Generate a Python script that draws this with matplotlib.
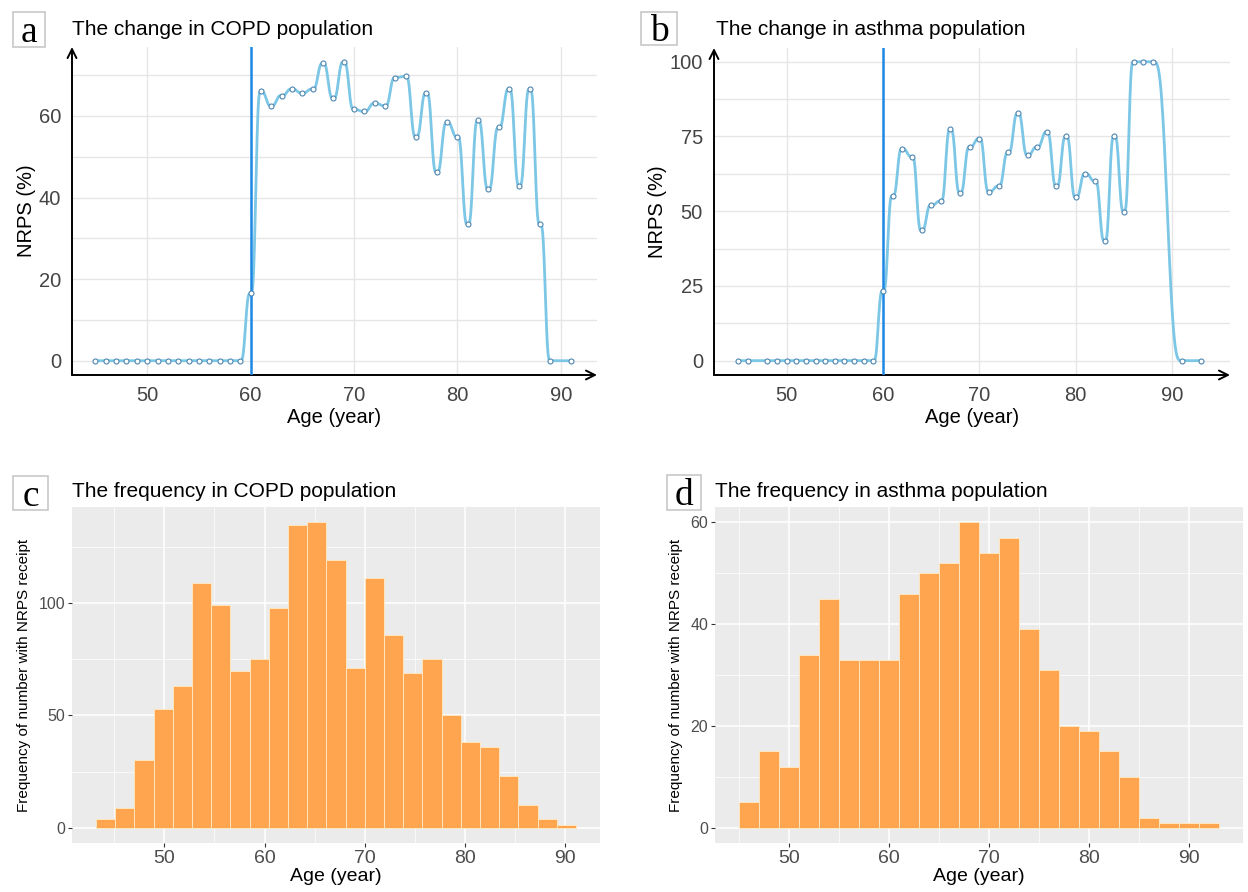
import numpy as np
import matplotlib
matplotlib.use("Agg")
import matplotlib.pyplot as plt
from matplotlib.patches import Rectangle

plt.rcParams['font.family'] = ['Liberation Sans', 'DejaVu Sans']

# ---- data ----
copd_age = [45, 46, 47, 48, 49, 50, 51, 52, 53, 54, 55, 56, 57, 58, 59,
            60, 61, 62, 63, 64, 65, 66, 67, 68, 69, 70, 71, 72, 73, 74,
            75, 76, 77, 78, 79, 80, 81, 82, 83, 84, 85, 86, 87, 88, 89, 91]
copd_nrps = [0, 0, 0, 0, 0, 0, 0, 0, 0, 0, 0, 0, 0, 0, 0,
             16.5, 66.0, 62.5, 65.0, 66.6, 65.6, 66.6, 72.9, 64.3, 73.2, 61.6,
             61.1, 63.1, 62.5, 69.4, 69.7, 54.9, 65.7, 46.2, 58.4, 54.9, 33.4,
             58.9, 42.1, 57.2, 66.6, 42.9, 66.6, 33.4, 0, 0]

asthma_age = [45, 46, 48, 49, 50, 51, 52, 53, 54, 55, 56, 57, 58, 59,
              60, 61, 62, 63, 64, 65, 66, 67, 68, 69, 70, 71, 72, 73, 74,
              75, 76, 77, 78, 79, 80, 81, 82, 83, 84, 85, 86, 87, 88, 91, 93]
asthma_nrps = [0, 0, 0, 0, 0, 0, 0, 0, 0, 0, 0, 0, 0, 0,
               23.4, 55.2, 70.9, 68.3, 43.6, 52.0, 53.4, 77.4, 56.1, 71.5, 74.3,
               56.5, 58.4, 69.7, 82.7, 68.8, 71.5, 76.5, 58.4, 75.1, 54.6, 62.6,
               60.1, 40.1, 75.1, 49.9, 100, 100, 100, 0, 0]

cutoff_age = 60

copd_counts = [4, 9, 30, 53, 63, 109, 99, 70, 75, 98, 135, 136, 119, 71, 111,
               86, 69, 75, 50, 38, 36, 23, 10, 4, 1]
copd_bin_start = 43.2
copd_bin_width = 1.915

asthma_counts = [5, 15, 12, 34, 45, 33, 33, 33, 46, 50, 52, 60, 54, 57, 39,
                 31, 20, 19, 15, 10, 2, 1, 1, 1]
asthma_bin_start = 45
asthma_bin_width = 2

W, H = 1248, 892


def px_axes(fig, left, top, right, bottom):
    return fig.add_axes([left / W, 1 - bottom / H, (right - left) / W, (bottom - top) / H])


def smooth_curve(xs, ys, n=40):
    # smooth step between consecutive points (flat at each point)
    xx, yy = [], []
    for i in range(len(xs) - 1):
        t = np.linspace(0, 1, n, endpoint=False)
        s = t * t * (3 - 2 * t)
        s = s * s * (3 - 2 * s)
        xx.extend(xs[i] + (xs[i + 1] - xs[i]) * t)
        yy.extend(ys[i] + (ys[i + 1] - ys[i]) * s)
    xx.append(xs[-1])
    yy.append(ys[-1])
    return xx, yy


def letter_box(fig, x0, y0, x1, y1, letter):
    fig.patches.append(Rectangle((x0 / W, 1 - y1 / H), (x1 - x0) / W, (y1 - y0) / H,
                                 transform=fig.transFigure, facecolor='white',
                                 edgecolor='#c8c8c8', lw=1.2))
    fig.text((x0 + x1) / 2 / W, 1 - (y0 + y1) / 2 / H - 0.004, letter, ha='center', va='center',
             fontsize=27, family='Liberation Serif')


def line_panel(ax, ages, vals, xlim, ylim, yticks, yminor):
    ax.set_xlim(*xlim)
    ax.set_ylim(*ylim)
    for s in ax.spines.values():
        s.set_visible(False)
    ax.set_xticks([50, 60, 70, 80, 90])
    ax.set_yticks(yticks)
    ax.set_yticks(yminor, minor=True)
    ax.tick_params(length=0, labelsize=14.5, labelcolor='#444444', pad=8)
    ax.tick_params(which='minor', length=0)
    ax.grid(True, which='both', color='#e6e6e6', lw=1)
    ax.set_axisbelow(True)
    ax.annotate('', xy=(0, 1), xytext=(0, 0), xycoords='axes fraction',
                arrowprops=dict(arrowstyle='->', color='black', lw=1.4,
                                shrinkA=0, shrinkB=0, mutation_scale=16))
    ax.annotate('', xy=(1, 0), xytext=(0, 0), xycoords='axes fraction',
                arrowprops=dict(arrowstyle='->', color='black', lw=1.4,
                                shrinkA=0, shrinkB=0, mutation_scale=16))
    ax.axvline(cutoff_age, color='#1e88e5', lw=1.8, zorder=4)
    xx, yy = smooth_curve(ages, vals)
    ax.plot(xx, yy, color='#7cc6e6', lw=2.0, zorder=3)
    ax.plot(ages, vals, 'o', ms=3.6, mfc='white', mec='#4f86b0', mew=0.8, zorder=5)
    ax.set_xlabel('Age (year)', fontsize=14.5, labelpad=2)
    ax.set_ylabel('NRPS (%)', fontsize=14.5, labelpad=2)


def hist_panel(ax, start, width, counts, xlim, ylim, yticks, yminor):
    ax.set_facecolor('#ebebeb')
    edges = start + width * np.arange(len(counts))
    ax.bar(edges, counts, width=width, align='edge', color='#ffa54f',
           edgecolor='#ffe6bf', lw=0.7, zorder=3)
    ax.set_xlim(*xlim)
    ax.set_ylim(*ylim)
    for s in ax.spines.values():
        s.set_visible(False)
    ax.set_xticks([50, 60, 70, 80, 90])
    ax.set_xticks([45, 55, 65, 75, 85], minor=True)
    ax.set_yticks(yticks)
    ax.set_yticks(yminor, minor=True)
    ax.tick_params(which='major', length=3, width=0.8, color='#333333',
                   labelcolor='#4d4d4d', pad=2)
    ax.tick_params(axis='x', labelsize=14)
    ax.tick_params(axis='y', labelsize=11.5)
    ax.tick_params(which='minor', length=0)
    ax.grid(True, which='major', color='white', lw=1.1, zorder=0)
    ax.grid(True, which='minor', color='white', lw=0.5, zorder=0)
    ax.set_axisbelow(True)
    ax.set_xlabel('Age (year)', fontsize=14, labelpad=1)
    ax.set_ylabel('Frequency of number with NRPS receipt', fontsize=11, labelpad=5)


fig = plt.figure(figsize=(W / 100, H / 100), dpi=100)

ax_a = px_axes(fig, 72, 47, 597, 375)
line_panel(ax_a, copd_age, copd_nrps, (42.73, 93.5), (-3.5, 76.9), [0, 20, 40, 60], [10, 30, 50, 70])
ax_b = px_axes(fig, 714, 48, 1230, 375)
line_panel(ax_b, asthma_age, asthma_nrps, (42.47, 96.0), (-4.8, 104.6), [0, 25, 50, 75, 100],
           [12.5, 37.5, 62.5, 87.5])

ax_c = px_axes(fig, 72, 507, 600, 843)
hist_panel(ax_c, copd_bin_start, copd_bin_width, copd_counts, (40.8, 93.46), (-6.8, 142.8),
           [0, 50, 100], [25, 75, 125])
ax_d = px_axes(fig, 715, 507, 1243, 843)
hist_panel(ax_d, asthma_bin_start, asthma_bin_width, asthma_counts, (42.6, 95.4), (-3, 63),
           [0, 20, 40, 60], [10, 30, 50])

fig.text(72 / W, 1 - 35 / H, 'The change in COPD population', fontsize=15, va='baseline')
fig.text(716 / W, 1 - 35 / H, 'The change in asthma population', fontsize=15, va='baseline')
fig.text(72 / W, 1 - 497 / H, 'The frequency in COPD population', fontsize=15, va='baseline')
fig.text(715 / W, 1 - 497 / H, 'The frequency in asthma population', fontsize=15, va='baseline')

letter_box(fig, 13, 12, 45, 47, 'a')
letter_box(fig, 641, 12, 677, 45, 'b')
letter_box(fig, 13, 476, 48, 510, 'c')
letter_box(fig, 667, 475, 701, 510, 'd')

fig.savefig('out.png', dpi=100)
